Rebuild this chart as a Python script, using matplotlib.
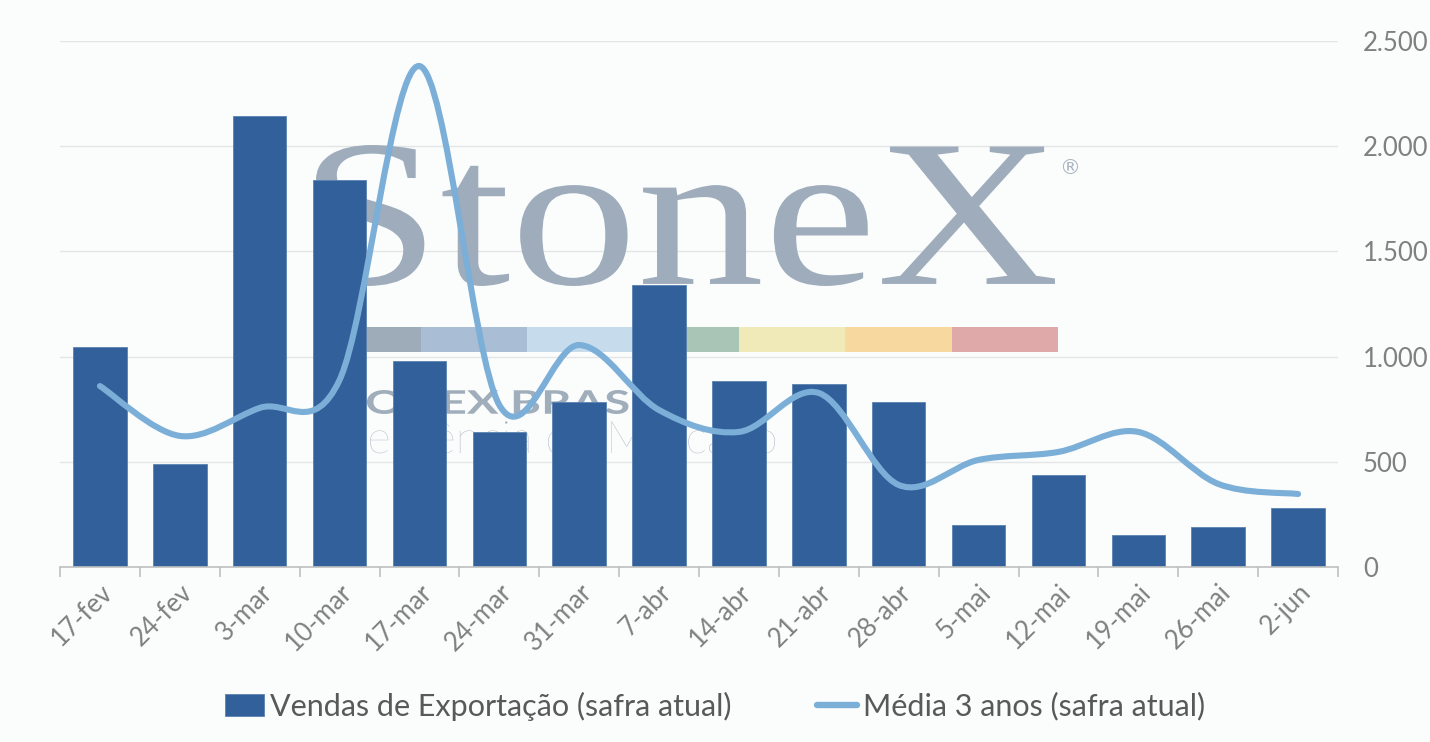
import numpy as np
import matplotlib
matplotlib.use('Agg')
import matplotlib.pyplot as plt
from matplotlib.path import Path
from matplotlib.patches import PathPatch, Rectangle
from matplotlib.textpath import TextPath
from matplotlib.font_manager import FontProperties
from matplotlib.transforms import Affine2D, IdentityTransform
from matplotlib.ticker import FuncFormatter, MultipleLocator, FixedLocator
from matplotlib.lines import Line2D

categories = ['17-fev', '24-fev', '3-mar', '10-mar', '17-mar', '24-mar', '31-mar', '7-abr',
              '14-abr', '21-abr', '28-abr', '5-mai', '12-mai', '19-mai', '26-mai', '2-jun']
exports = [1045, 490, 2144, 1839, 979, 642, 784, 1340, 884, 870, 784, 200, 437, 152, 190, 280]
avg3 = [860, 623, 756, 889, 2381, 770, 1055, 746, 642, 827, 390, 509, 547, 642, 395, 347]
series_names = ['Vendas de Exportação (safra atual)', 'Média 3 anos (safra atual)']

BAR = '#31609a'
LINE = '#7bafd8'
BG = '#fbfcfc'
GRAY = '#808080'

W, H = 1430, 742
fig = plt.figure(figsize=(W / 100, H / 100), dpi=100, facecolor=BG)
ax = fig.add_axes([60 / W, 1 - 567 / H, (1338 - 60) / W, (567 - 41) / H])
ax.set_facecolor('none')

x = np.arange(len(categories))
ax.bar(x, exports, width=0.67, color=BAR, edgecolor='#5b82b0', linewidth=0.6, zorder=2)

# smoothed line (Excel-like Catmull-Rom bezier through the data points)
pts = np.column_stack([x, avg3]).astype(float)
n = len(pts)
verts = [tuple(pts[0])]
codes = [Path.MOVETO]
for i in range(n - 1):
    p0 = pts[i - 1] if i > 0 else pts[i]
    p1 = pts[i]
    p2 = pts[i + 1]
    p3 = pts[i + 2] if i + 2 < n else pts[i + 1]
    c1 = p1 + (p2 - p0) / 6.0
    c2 = p2 - (p3 - p1) / 6.0
    verts += [tuple(c1), tuple(c2), tuple(p2)]
    codes += [Path.CURVE4] * 3
ax.add_patch(PathPatch(Path(verts, codes), facecolor='none', edgecolor=LINE,
                       linewidth=4.4, capstyle='round', joinstyle='round', zorder=3))

ax.set_xlim(-0.5, len(categories) - 0.5)
ax.set_ylim(0, 2500)
ax.yaxis.set_major_locator(MultipleLocator(500))
ax.yaxis.set_major_formatter(FuncFormatter(lambda v, p: f'{int(v):,}'.replace(',', '.')))
ax.yaxis.tick_right()
ax.tick_params(axis='y', length=0, pad=18, labelsize=18.5, labelcolor=GRAY)
for lab in ax.get_yticklabels():
    lab.set_horizontalalignment('left')
    lab.set_fontfamily('Lato')
ax.grid(axis='y', color='#e3e5e6', linewidth=1.0, zorder=0)
ax.set_axisbelow(True)

ax.set_xticks(x)
ax.set_xticklabels(categories, rotation=45, ha='right', va='top', rotation_mode='anchor',
                   fontsize=18.5, color=GRAY, fontfamily='Lato')
ax.xaxis.set_minor_locator(FixedLocator(np.arange(-0.5, len(categories), 1.0)))
ax.tick_params(axis='x', which='major', length=0, pad=9)
ax.tick_params(axis='x', which='minor', length=7, color='#bfbfbf', width=1.2)
for s in ['top', 'left', 'right']:
    ax.spines[s].set_visible(False)
ax.spines['bottom'].set_color('#bfbfbf')
ax.spines['bottom'].set_linewidth(1.2)

# watermark (display/pixel coordinates)
def dy(y):
    return H - y


def fit_text(s, fp, x0, x1, y_top, y_base, color, uniform=False):
    tp = TextPath((0, 0), s, size=100, prop=fp)
    ext = tp.get_extents()
    sx = (x1 - x0) / ext.width
    if uniform:
        sy = sx
        tr = Affine2D().translate(-ext.x0, 0).scale(sx, sy).translate(x0, dy(y_base))
    else:
        sy = (y_base - y_top) / ext.height
        tr = Affine2D().translate(-ext.x0, -ext.y0).scale(sx, sy).translate(x0, dy(y_base))
    p = PathPatch(tr.transform_path(tp), facecolor=color, edgecolor='none',
                  transform=IdentityTransform(), zorder=1, clip_on=False)
    ax.add_artist(p)


fit_text('StoneX', FontProperties(family='Liberation Serif'), 316, 1055, 145, 286, '#9eacbb')
ax.text(1070, dy(168), '®', transform=IdentityTransform(), fontsize=15, color='#a9b5c2',
        ha='center', va='center', zorder=1, fontfamily='DejaVu Sans')

edges = [315, 421, 527, 580, 685, 739, 845, 952, 1058]
strip_cols = ['#9eacb9', '#a9bdd5', '#c6dcec', '#c6dcec', '#a8c5b5', '#f0eab8', '#f7d9a0', '#dfa9aa']
for i, c in enumerate(strip_cols):
    ax.add_artist(Rectangle((edges[i], dy(352)), edges[i + 1] - edges[i], 25, facecolor=c,
                            edgecolor='none', transform=IdentityTransform(), zorder=1, clip_on=False))

fit_text('STONEX BRASIL', FontProperties(family='Lato', weight='bold'), 312, 668, 390, 414,
         '#a0aebb')
fit_text('Inteligência de Mercado', FontProperties(family='Lato', weight='light'), 322, 775,
         433, 453, '#abb6c2', uniform=True)

handles = [Rectangle((0, 0), 1, 1, facecolor=BAR, edgecolor='#5b82b0', linewidth=0.6),
           Line2D([0], [0], color=LINE, linewidth=4.6, solid_capstyle='round')]
fig.legend(handles, series_names, loc='center', bbox_to_anchor=(0.5, (H - 706) / H), ncol=2,
           frameon=False, labelcolor='#595959', handlelength=1.3, handleheight=0.75,
           handletextpad=0.2, columnspacing=2.8, prop={'family': 'Lato', 'size': 22})

fig.savefig('out.png', dpi=100, facecolor=BG)
